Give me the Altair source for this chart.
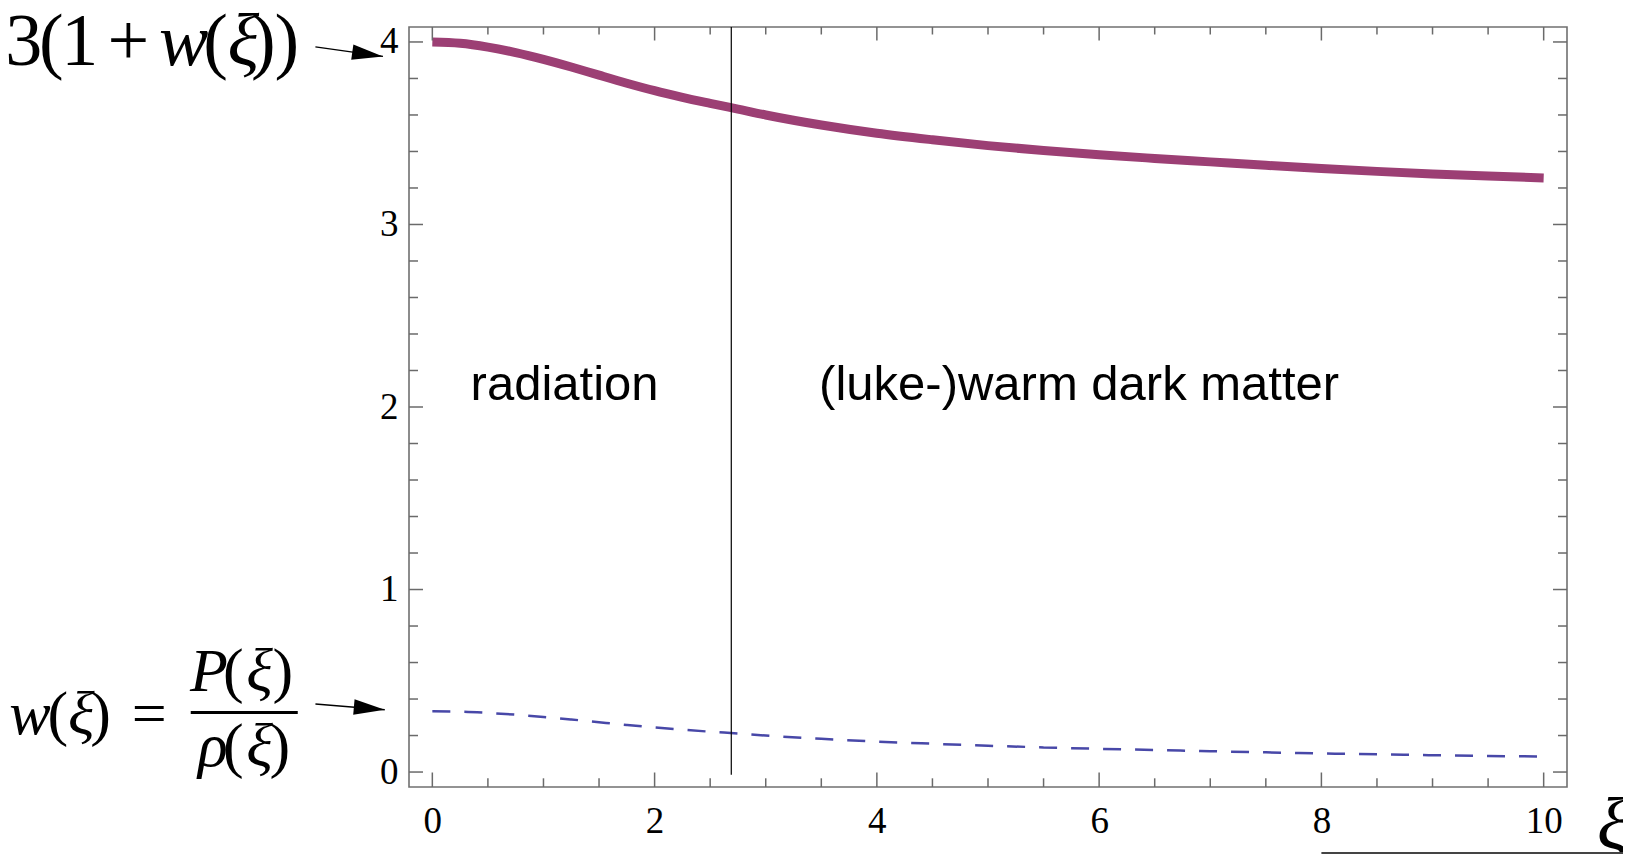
import altair as alt
import pandas as pd

# ---------------- data ----------------
xi = [0, 0.25, 0.5, 0.75, 1, 1.25, 1.5, 1.75, 2, 2.25, 2.5, 2.75, 3, 3.5, 4,
      4.5, 5, 5.5, 6, 6.5, 7, 7.5, 8, 8.5, 9, 9.5, 10]
three_one_plus_w = [4.000, 3.993, 3.972, 3.942, 3.905, 3.863, 3.818, 3.774, 3.733,
                    3.697, 3.664, 3.632, 3.600, 3.545, 3.500, 3.464, 3.432, 3.405,
                    3.382, 3.362, 3.343, 3.324, 3.307, 3.291, 3.277, 3.265, 3.255]
w_values = [0.333, 0.331, 0.324, 0.314, 0.302, 0.288, 0.273, 0.258, 0.244, 0.232,
            0.221, 0.211, 0.200, 0.182, 0.167, 0.155, 0.144, 0.135, 0.127, 0.121,
            0.114, 0.108, 0.102, 0.097, 0.092, 0.088, 0.085]

x_major = [0, 2, 4, 6, 8, 10]
x_minor = [0.5, 1, 1.5, 2.5, 3, 3.5, 4.5, 5, 5.5, 6.5, 7, 7.5, 8.5, 9, 9.5]
y_major = [0, 1, 2, 3, 4]
y_minor = [0.2, 0.4, 0.6, 0.8, 1.2, 1.4, 1.6, 1.8, 2.2, 2.4, 2.6, 2.8,
           3.2, 3.4, 3.6, 3.8]

x_domain = [-0.21, 10.21]
y_domain = [-0.082, 4.082]

transition_x = [2.69]
transition_y0 = [-0.015]
transition_y1 = [4.082]

region_labels = ["radiation", "(luke-)warm dark matter"]
region_x = [1.19, 5.82]
region_y = [2.04, 2.04]

# annotation "3(1 + w(ξ))"
top_reg_text = ["3", "(", "1", "+", "(", ")", ")"]
top_reg_x = [-3.677, -3.429, -3.173, -2.736, -1.950, -1.520, -1.310]
top_it_text = ["w", "ξ"]
top_it_x = [-2.237, -1.700]
top_row_y = 3.876

# annotation "w(ξ) = P(ξ)/ρ(ξ)"
bot_reg_text = ["(", ")", "=", "(", ")", "(", ")"]
bot_reg_x = [-3.370, -2.985, -2.547, -1.790, -1.345, -1.790, -1.372]
bot_reg_y = [0.21, 0.21, 0.21, 0.446, 0.446, 0.035, 0.035]
bot_it_text = ["w", "ξ", "P", "ξ", "ρ", "ξ"]
bot_it_x = [-3.622, -3.160, -2.010, -1.555, -1.975, -1.555]
bot_it_y = [0.21, 0.21, 0.446, 0.446, 0.035, 0.035]
frac_x = [-2.174]
frac_x2 = [-1.211]
frac_y = [0.3266]

# arrows (start -> tip)
arrow_id = ["top", "top", "bottom", "bottom"]
arrow_x = [-1.052, -0.444, -1.052, -0.428]
arrow_y = [3.973, 3.921, 0.3726, 0.3414]

# axis symbol ξ and the stray rule under it
xi_label_x = [10.48]
xi_label_y = [-0.42]
stray_x = [8.0]
stray_x2 = [11.5]
stray_y = [-0.443]

# ---------------- chart ----------------
W, H = 1158, 760
xs = alt.Scale(domain=x_domain, nice=False, zero=False)
ys = alt.Scale(domain=y_domain, nice=False, zero=False)
TICK = "#6a6a6a"
SERIF = "Liberation Serif"

curves = pd.DataFrame({"xi": xi, "top": three_one_plus_w, "w": w_values})

top_line = alt.Chart(curves).mark_line(
    color="#9C3F74", strokeWidth=9, strokeCap="butt", interpolate="monotone"
).encode(
    x=alt.X("xi:Q", scale=xs, axis=alt.Axis(values=x_major, ticks=False, tickSize=0,
                                          domain=False, grid=False, title=None,
                                          labelPadding=45, labelBaseline="alphabetic",
                                          labelFont=SERIF, labelFontSize=37,
                                          labelColor="black", format="d")),
    y=alt.Y("top:Q", scale=ys, axis=alt.Axis(values=y_major, ticks=False, tickSize=0,
                                           domain=False, grid=False, title=None,
                                           labelPadding=11, labelFont=SERIF,
                                           labelFontSize=37, labelColor="black",
                                           format="d")),
)

w_line = alt.Chart(curves).mark_line(
    color="#4848A8", strokeWidth=2.5, strokeDash=[18, 14], interpolate="monotone"
).encode(
    x=alt.X("xi:Q", scale=xs),
    y=alt.Y("w:Q", scale=ys),
)


def xticks(vals, y0, y1):
    return alt.Chart(pd.DataFrame({"v": vals})).mark_rule(
        color=TICK, strokeWidth=1.5
    ).encode(x=alt.X("v:Q", scale=xs), y=alt.value(y0), y2=alt.value(y1))


def yticks(vals, x0, x1):
    return alt.Chart(pd.DataFrame({"v": vals})).mark_rule(
        color=TICK, strokeWidth=1.5
    ).encode(y=alt.Y("v:Q", scale=ys), x=alt.value(x0), x2=alt.value(x1))


ticks = [
    xticks(x_major, H, H - 14.5), xticks(x_minor, H, H - 8.7),
    xticks(x_major, 0, 13.5), xticks(x_minor, 0, 7.5),
    yticks(y_major, 0, 14), yticks(y_minor, 0, 9),
    yticks(y_major, W, W - 14), yticks(y_minor, W, W - 9),
]

vline = alt.Chart(pd.DataFrame({"x": transition_x, "y0": transition_y0,
                                "y1": transition_y1})).mark_rule(
    color="black", strokeWidth=1.2
).encode(x=alt.X("x:Q", scale=xs), y=alt.Y("y0:Q", scale=ys), y2="y1:Q")

regions = alt.Chart(pd.DataFrame({"t": region_labels, "x": region_x, "y": region_y})).mark_text(
    font="Liberation Sans", fontSize=49, align="center", baseline="alphabetic", color="black"
).encode(x=alt.X("x:Q", scale=xs), y=alt.Y("y:Q", scale=ys), text="t:N")


def glyphs(texts, xsv, ysv, size, italic):
    kw = dict(font=SERIF, fontSize=size, align="center", baseline="alphabetic", color="black")
    if italic:
        kw["fontStyle"] = "italic"
    return alt.Chart(pd.DataFrame({"t": texts, "x": xsv, "y": ysv})).mark_text(**kw).encode(
        x=alt.X("x:Q", scale=xs), y=alt.Y("y:Q", scale=ys), text="t:N")


top_reg = glyphs(top_reg_text, top_reg_x, [top_row_y] * len(top_reg_text), 74, False)
top_it = glyphs(top_it_text, top_it_x, [top_row_y] * len(top_it_text), 74, True)
bot_reg = glyphs(bot_reg_text, bot_reg_x, bot_reg_y, 62, False)
bot_it = glyphs(bot_it_text, bot_it_x, bot_it_y, 62, True)

frac = alt.Chart(pd.DataFrame({"x": frac_x, "x2": frac_x2, "y": frac_y})).mark_rule(
    color="black", strokeWidth=3
).encode(x=alt.X("x:Q", scale=xs), x2="x2:Q", y=alt.Y("y:Q", scale=ys))

arrows_df = pd.DataFrame({"id": arrow_id, "x": arrow_x, "y": arrow_y})
arrow_lines = alt.Chart(arrows_df).mark_line(color="black", strokeWidth=1.4).encode(
    x=alt.X("x:Q", scale=xs), y=alt.Y("y:Q", scale=ys), detail="id:N")

TRI = "M 0 0 L -2 -0.5 L -2 0.5 Z"
tips = arrows_df.iloc[[1, 3]].reset_index(drop=True)
head_top = alt.Chart(tips.iloc[[0]]).mark_point(
    shape=TRI, filled=True, size=961, angle=8, color="black", opacity=1
).encode(x=alt.X("x:Q", scale=xs), y=alt.Y("y:Q", scale=ys))
head_bot = alt.Chart(tips.iloc[[1]]).mark_point(
    shape=TRI, filled=True, size=961, angle=5, color="black", opacity=1
).encode(x=alt.X("x:Q", scale=xs), y=alt.Y("y:Q", scale=ys))

xi_label = alt.Chart(pd.DataFrame({"t": ["ξ"], "x": xi_label_x, "y": xi_label_y})).mark_text(
    font=SERIF, fontSize=74, fontStyle="italic", align="left", baseline="alphabetic",
    color="black"
).encode(x=alt.X("x:Q", scale=xs), y=alt.Y("y:Q", scale=ys), text="t:N")

stray = alt.Chart(pd.DataFrame({"x": stray_x, "x2": stray_x2, "y": stray_y})).mark_rule(
    color="#444444", strokeWidth=2
).encode(x=alt.X("x:Q", scale=xs), x2="x2:Q", y=alt.Y("y:Q", scale=ys))

chart = alt.layer(
    top_line, w_line, *ticks, vline, regions, top_reg, top_it, bot_reg, bot_it, frac,
    arrow_lines, head_top, head_bot, xi_label, stray
).properties(
    width=W, height=H,
    padding={"left": 401, "top": 19, "right": 56, "bottom": 67},
    autosize=alt.AutoSizeParams(type="none"),
).configure_view(
    stroke="#707070", strokeWidth=1.6
)

chart.save("out.html", embed_options={"renderer": "svg", "actions": False})
